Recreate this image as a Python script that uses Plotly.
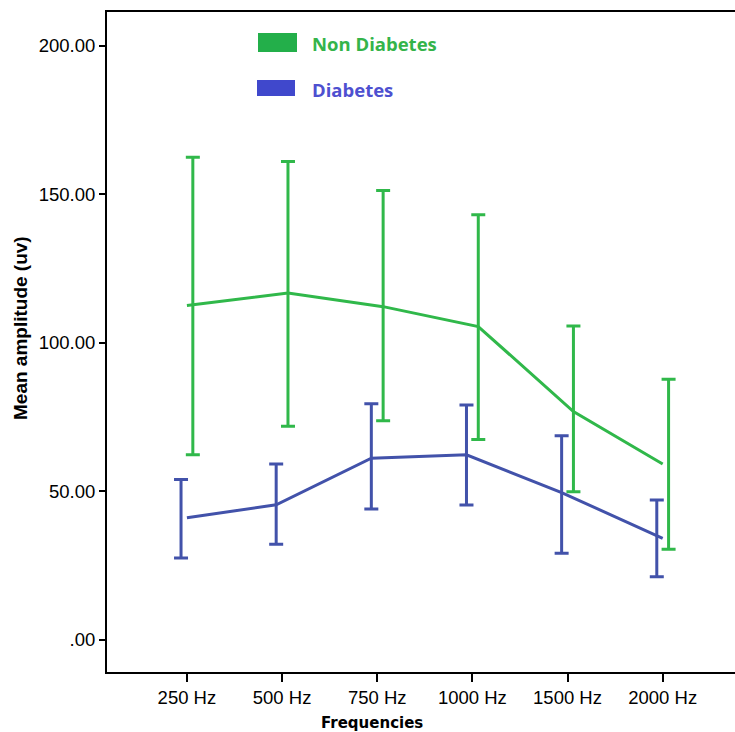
import plotly.graph_objects as go

categories = ["250 Hz", "500 Hz", "750 Hz", "1000 Hz", "1500 Hz", "2000 Hz"]

non_mean = [112.6, 116.8, 112.2, 105.5, 76.9, 59.2]
non_upper = [162.5, 161.1, 151.3, 143.1, 105.7, 87.8]
non_lower = [62.3, 71.9, 73.8, 67.5, 49.9, 30.5]

dia_mean = [41.1, 45.5, 61.2, 62.3, 49.6, 34.2]
dia_upper = [54.0, 59.2, 79.5, 79.1, 68.7, 47.1]
dia_lower = [27.6, 32.2, 44.1, 45.4, 29.2, 21.3]

yticks = [0, 50, 100, 150, 200]
ytick_text = [".00", "50.00", "100.00", "150.00", "200.00"]

GREEN = "rgb(48,184,74)"
BLUE = "rgb(66,82,170)"
GREEN_TXT = "rgb(52,180,74)"
BLUE_TXT = "rgb(78,80,208)"

idx = list(range(len(categories)))
off = 0.062


def line_x(sign):
    xs = [i + sign * off for i in idx]
    xs[0] = idx[0]
    xs[-1] = idx[-1]
    return xs


fig = go.Figure()

for mean, up, lo, col, sign in [
    (non_mean, non_upper, non_lower, GREEN, 1),
    (dia_mean, dia_upper, dia_lower, BLUE, -1),
]:
    fig.add_trace(go.Scatter(
        x=line_x(sign), y=mean, mode="lines",
        line=dict(color=col, width=3), showlegend=False, hoverinfo="skip"))
    fig.add_trace(go.Scatter(
        x=[i + sign * off for i in idx], y=mean, mode="markers",
        marker=dict(size=1, opacity=0),
        error_y=dict(type="data", symmetric=False,
                     array=[u - m for u, m in zip(up, mean)],
                     arrayminus=[m - l for m, l in zip(mean, lo)],
                     color=col, thickness=3, width=7),
        showlegend=False, hoverinfo="skip"))

fig.update_layout(
    width=735, height=732,
    margin=dict(l=107, r=0, t=12, b=60),
    plot_bgcolor="white", paper_bgcolor="white",
    font=dict(family="Liberation Sans", color="black"),
    xaxis=dict(range=[-0.84, 5.76], tickvals=idx, ticktext=categories,
               showgrid=False, zeroline=False, showline=True, linecolor="black",
               linewidth=2, mirror=True, ticks="outside", ticklen=8, tickwidth=2,
               tickcolor="black", tickfont=dict(size=18.5, family="Liberation Sans")),
    yaxis=dict(range=[-10.8, 211.4], tickvals=yticks, ticktext=ytick_text,
               showgrid=False, zeroline=False, showline=True, linecolor="black",
               linewidth=2, mirror=False, ticks="outside", ticklen=6, tickwidth=2,
               tickcolor="black", tickfont=dict(size=18.5, family="Liberation Sans")),
)


def px_x(p):
    return (p - 107) / 628


def px_y(p):
    return (672 - p) / 660


fig.add_annotation(text="<b>Frequencies</b>", xref="paper", yref="paper",
                   x=px_x(372), y=px_y(723), showarrow=False,
                   xanchor="center", yanchor="middle",
                   font=dict(size=15, family="DejaVu Sans"))
fig.add_annotation(text="<b>Mean amplitude (uv)</b>", xref="paper", yref="paper",
                   x=px_x(20), y=px_y(328), showarrow=False,
                   textangle=-90, xanchor="center", yanchor="middle",
                   font=dict(size=19, family="Liberation Sans"))

for (x0, x1, y0, y1, col, label, tcol, ty) in [
    (258, 297, 33, 52, "rgb(35,175,74)", "Non Diabetes", GREEN_TXT, 43),
    (257, 295, 80, 96, "rgb(64,72,204)", "Diabetes", BLUE_TXT, 89),
]:
    fig.add_shape(type="rect", xref="paper", yref="paper",
                  x0=px_x(x0), x1=px_x(x1), y0=px_y(y1), y1=px_y(y0),
                  fillcolor=col, line=dict(width=0))
    fig.add_annotation(text="<b>" + label + "</b>", xref="paper", yref="paper",
                       x=px_x(310), y=px_y(ty), showarrow=False,
                       xanchor="left", yanchor="middle",
                       font=dict(size=18.5, color=tcol, family="Open Sans"))

fig.write_html("out.html")
